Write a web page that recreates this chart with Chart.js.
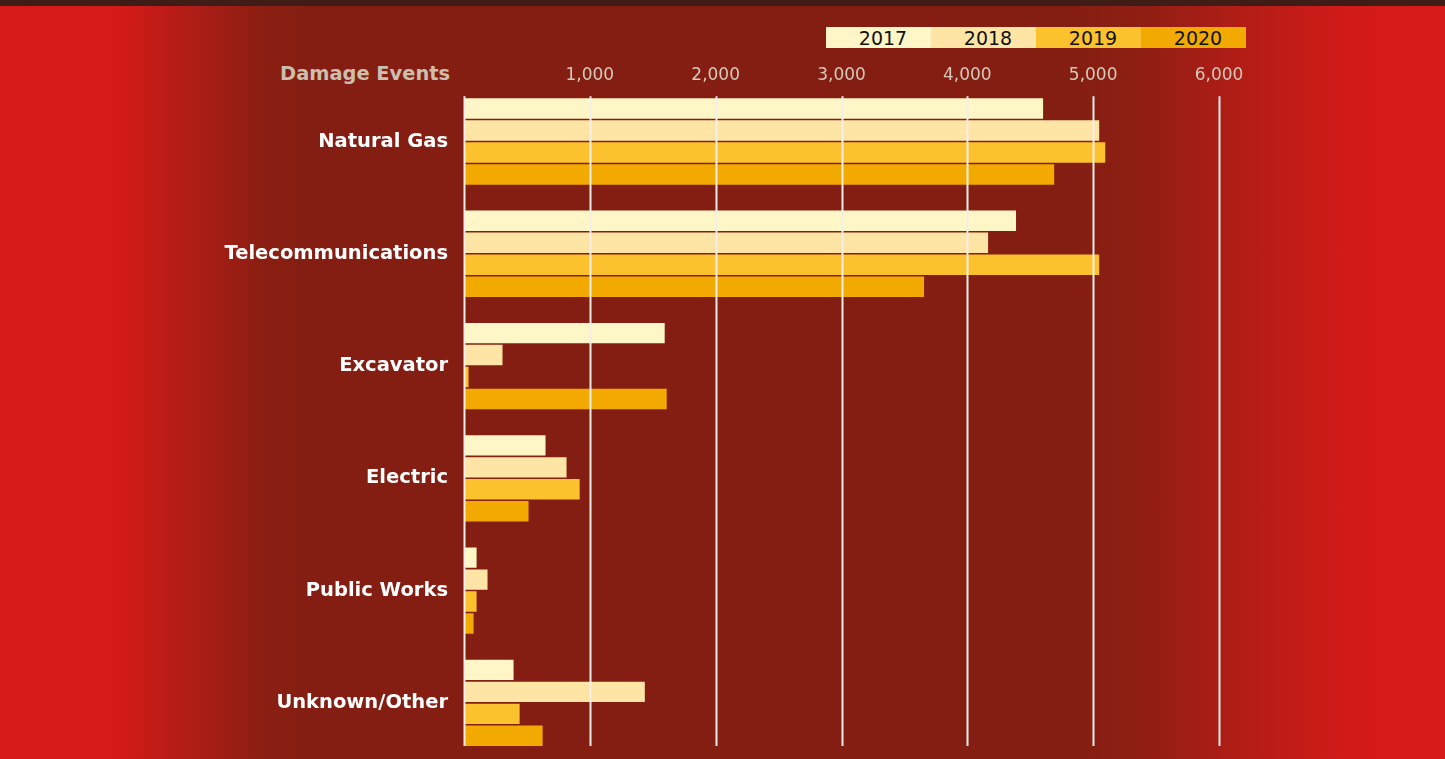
<!DOCTYPE html>
<html>
<head>
<meta charset="utf-8">
<title>Damage Events by Facility Type</title>
<script src="https://cdn.jsdelivr.net/npm/chart.js@4/dist/chart.umd.min.js"></script>
<style>
  html, body {
    margin: 0;
    padding: 0;
    width: 1445px;
    height: 759px;
    overflow: hidden;
  }
  body {
    position: relative;
    background: linear-gradient(to right, #d71a1a 0px, #d41a19 120px, #b01d16 190px, #8c1e12 260px, #851e12 300px, #851e12 1080px, #921e13 1150px, #b51d16 1250px, #d21a19 1350px, #d71a1a 1445px);
    font-family: "DejaVu Sans", sans-serif;
  }
  #topBand {
    position: absolute;
    left: 0; top: 0;
    width: 1445px; height: 6px;
    background: #3f1c16;
  }
  #legend {
    position: absolute;
    left: 826px; top: 27px;
    display: flex;
    height: 21px;
  }
  #legend div {
    width: 105px;
    height: 21px;
    line-height: 22px;
    text-align: center;
    box-sizing: border-box;
    padding-left: 9px;
    font-size: 19px;
    color: #111;
  }
  #axisTitle {
    position: absolute;
    right: 995px;
    top: 62px;
    font-size: 19.4px;
    font-weight: bold;
    color: #cbbfae;
  }
  #wrap {
    position: absolute;
    left: 0; top: 0;
    width: 1445px; height: 759px;
  }
</style>
</head>
<body>
<div id="topBand"></div>
<div id="legend"></div>
<div id="axisTitle">Damage Events</div>
<div id="wrap"><canvas id="damageChart"></canvas></div>
<script>
const categories = ['Natural Gas', 'Telecommunications', 'Excavator', 'Electric', 'Public Works', 'Unknown/Other'];
const years = ['2017', '2018', '2019', '2020'];
const yearColors = ['#fef6c6', '#fee5a6', '#fcc22e', '#f2aa00'];

const events2017 = [4602, 4387, 1595, 648, 100, 394];
const events2018 = [5048, 4165, 306, 815, 187, 1437];
const events2019 = [5096, 5048, 36, 919, 100, 442];
const events2020 = [4690, 3656, 1611, 513, 76, 625];
const seriesValues = [events2017, events2018, events2019, events2020];

const xTicks = [0, 1000, 2000, 3000, 4000, 5000, 6000];

// legend strip: one coloured cell per year
const legendEl = document.getElementById('legend');
years.forEach(function(y, i) {
    const cell = document.createElement('div');
    cell.style.background = yearColors[i];
    cell.textContent = y;
    legendEl.appendChild(cell);
});

// vertical grid lines sit on top of the bars and only span the bar groups
const gridOverBars = {
    id: 'gridOverBars',
    afterDatasetsDraw(chart) {
        const ctx = chart.ctx;
        const x = chart.scales.x;
        const first = chart.getDatasetMeta(0).data[0];
        const lastMeta = chart.getDatasetMeta(chart.data.datasets.length - 1);
        const last = lastMeta.data[lastMeta.data.length - 1];
        const top = first.y - first.height / 2 - 2;
        const bottom = last.y + last.height / 2;
        ctx.save();
        ctx.strokeStyle = '#f4ede8';
        ctx.lineWidth = 2;
        xTicks.forEach(function(v) {
            const px = Math.round(x.getPixelForValue(v)) + 0.5;
            ctx.beginPath();
            ctx.moveTo(px, top);
            ctx.lineTo(px, bottom);
            ctx.stroke();
        });
        ctx.restore();
    }
};

const ctx = document.getElementById('damageChart').getContext('2d');
new Chart(ctx, {
    type: 'bar',
    data: {
        labels: categories,
        datasets: years.map(function(y, i) {
            return {
                label: y,
                data: seriesValues[i],
                backgroundColor: yearColors[i],
                borderWidth: 0,
                categoryPercentage: 0.783,
                barPercentage: 0.93
            };
        })
    },
    options: {
        indexAxis: 'y',
        responsive: true,
        maintainAspectRatio: false,
        animation: false,
        layout: {
            padding: { top: 65, right: 226, bottom: 0, left: 0 }
        },
        plugins: {
            legend: { display: false },
            tooltip: { enabled: false }
        },
        scales: {
            x: {
                position: 'top',
                min: 0,
                max: 6000,
                afterBuildTicks: function(scale) {
                    scale.ticks = xTicks.map(function(v) { return { value: v }; });
                },
                grid: { display: false, drawTicks: false },
                border: { display: false },
                ticks: {
                    padding: 0,
                    color: '#d6c9b9',
                    font: { family: 'DejaVu Sans', size: 17 },
                    maxRotation: 0,
                    callback: function(v) { return v === 0 ? '' : v.toLocaleString('en-US'); }
                }
            },
            y: {
                afterFit: function(scale) {
                    scale.width = 464;
                    // no extra room for half label heights at the ends
                    scale.paddingTop = 0;
                    scale.paddingBottom = 0;
                },
                grid: { display: false, drawTicks: false },
                border: { display: false },
                ticks: {
                    padding: 16,
                    color: '#ffffff',
                    font: { family: 'DejaVu Sans', size: 19.5, weight: 'bold' }
                }
            }
        }
    },
    plugins: [gridOverBars]
});
</script>
</body>
</html>
